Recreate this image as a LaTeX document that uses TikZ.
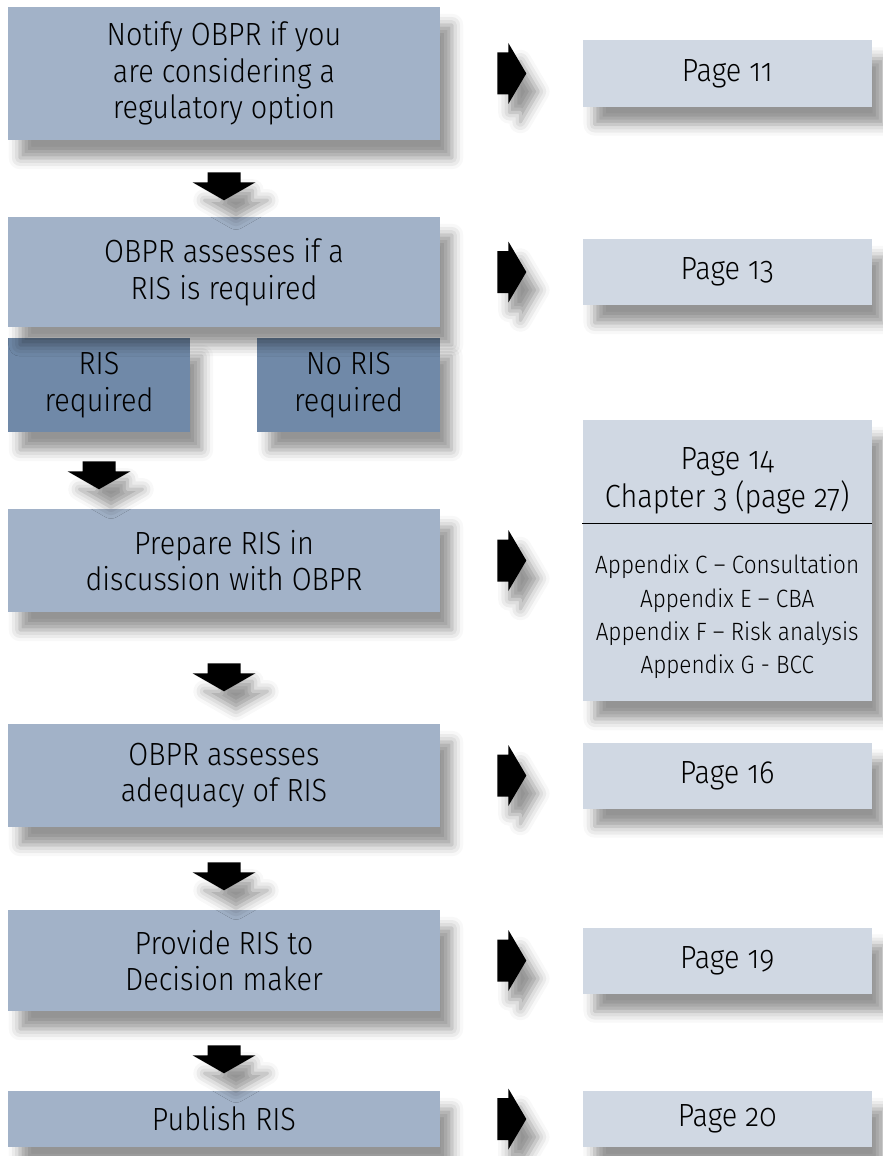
\documentclass[tikz,border=0pt]{standalone}
\usepackage{fontspec}
\setmainfont{Fira Sans}[UprightFont={* Light},Numbers=OldStyle,FakeStretch=0.9]
\usetikzlibrary{calc,positioning,shadows.blur}
\definecolor{stepblue}{HTML}{A2B2C8}
\definecolor{choiceblue}{HTML}{7089A8}
\definecolor{pageblue}{HTML}{D0D8E3}
\newcommand\mainsize{\fontsize{22.8}{26}\selectfont}
\newcommand\headsize{\fontsize{22.8}{27}\selectfont}
\newcommand\appsize{\fontsize{17.8}{23.5}\selectfont}
\tikzset{
	boxshadow/.style={blur shadow={shadow xshift=0.3cm,shadow yshift=-0.45cm,shadow blur radius=0.28cm,shadow opacity=42}},
	stepbox/.style={boxshadow,fill=stepblue,minimum width=10.8cm,inner sep=0pt,align=center,font=\mainsize},
	choicebox/.style={stepbox,fill=choiceblue,minimum width=4.55cm,minimum height=2.35cm},
	pagebox/.style={boxshadow,fill=pageblue,minimum width=7.225cm,minimum height=1.65cm,inner sep=0pt,align=center,font=\mainsize},
	downarrow/.pic={\fill[black,boxshadow] (-16.5,0) -- (16.5,0) -- (16.5,10) -- (31.5,10) -- (0,28) -- (-31.5,10) -- (-16.5,10) -- cycle;},
	rightarrow/.pic={\fill[black,boxshadow] (0,-21) -- (11,-21) -- (11,-30.5) -- (29,0) -- (11,30.5) -- (11,21) -- (0,21) -- cycle;}
}

\begin{document}
\begin{tikzpicture}[x=0.025cm,y=-0.025cm]
	%%%%% START %%%%%
	\useasboundingbox (0,0) rectangle (882,1156);
	
	% left column
	\node[stepbox, minimum height=3.325cm] (b1) at (224, 73.5) {Notify OBPR if you\\are considering a\\regulatory option};
	\node[choicebox] (yes) at (99, 385) {RIS\\required};
	\node[choicebox] (no) at (348.5, 385) {No RIS\\required};
	\node[stepbox, minimum height=2.75cm] (b2) at (224, 272) {OBPR assesses if a\\RIS is required};
	\node[stepbox, minimum height=2.575cm] (b3) at (224, 560.5) {Prepare RIS in\\discussion with OBPR};
	\node[stepbox, minimum height=2.575cm] (b4) at (224, 775.5) {OBPR assesses\\adequacy of RIS};
	\node[stepbox, minimum height=2.525cm] (b5) at (224, 960.5) {Provide RIS to\\Decision maker};
	\node[stepbox, minimum height=1.4cm] (b6) at (224, 1119) {Publish RIS};
	
	% right column
	\node[pagebox, right=3.55cm of b1] (p11) {Page 11};
	\node[pagebox, right=3.55cm of b2] (p13) {Page 13};
	\node[pagebox, right=3.55cm of b3, minimum height=7.025cm] (p14) {};
	\node[font=\headsize, align=center] (p14head) at ($(p14.north)+(0,61)$) {Page 14\\Chapter 3 (page 27)};
	\draw[line width=0.7pt] ($(p14.north west)+(0,104)$) -- ($(p14.north east)+(0,104)$);
	\node[font=\appsize, align=center] (p14app) at ($(p14.north)+(0,197)$) {Appendix C -- Consultation\\Appendix E -- CBA\\Appendix F -- Risk analysis\\Appendix G - BCC};
	\node[pagebox, right=3.55cm of b4] (p16) {Page 16};
	\node[pagebox, right=3.55cm of b5] (p19) {Page 19};
	\node[pagebox, right=3.55cm of b6, minimum height=1.4cm] (p20) {Page 20};
	
	% arrows
	\pic at ($(b1.south)+(0,32)$) {downarrow};
	\pic at ($(yes.south)+(0,29)$) {downarrow};
	\pic at ($(b3.south)+(0,51)$) {downarrow};
	\pic at ($(b4.south)+(0,35)$) {downarrow};
	\pic at ($(b5.south)+(0,34)$) {downarrow};
	\foreach \b in {b1,b2,b3,b4,b5,b6}
		\pic at ($(\b.east)+(57,0)$) {rightarrow};
	%%%%% END %%%%%
\end{tikzpicture}
\end{document}
